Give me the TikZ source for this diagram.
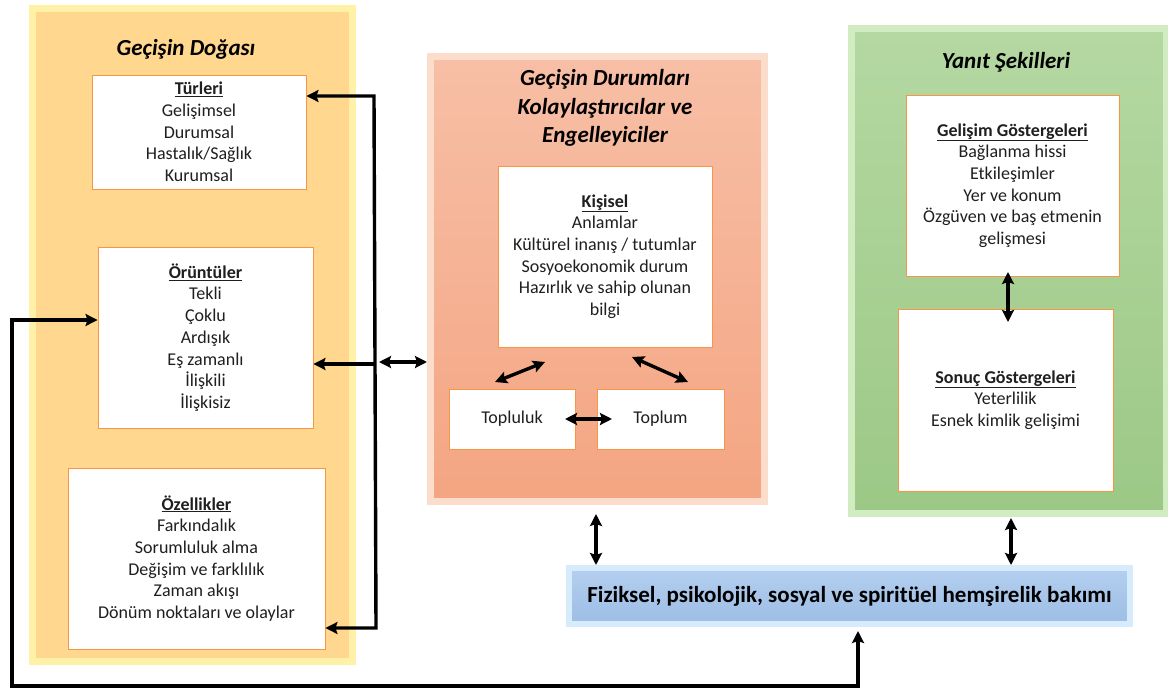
\documentclass[tikz,border=0pt]{standalone}
\usepackage{fontspec}
\setmainfont{Carlito}
\usetikzlibrary{arrows.meta}
\definecolor{txt}{HTML}{1F1F1F}
\definecolor{boxor}{HTML}{F79646}
\definecolor{lfill}{HTML}{FFD78F}
\definecolor{lglow}{HTML}{FFF2A8}
\definecolor{mtop}{HTML}{F7BFA6}
\definecolor{mbot}{HTML}{F4A582}
\definecolor{mglow}{HTML}{FCDCCB}
\definecolor{gtop}{HTML}{B5D8A2}
\definecolor{gbot}{HTML}{9CC886}
\definecolor{gglow}{HTML}{D2ECC2}
\definecolor{btop}{HTML}{B4CFEF}
\definecolor{bbot}{HTML}{9DBDE5}
\definecolor{bglow}{HTML}{D6EBFC}
\tikzset{
  panel/.style={line width=7pt, inner sep=0pt},
  wbox/.style={draw=boxor, fill=white, line width=0.9pt, align=center, inner sep=0pt,
    font=\fontsize{18}{21.7}\selectfont, text=txt},
  ttl/.style={align=center, inner sep=0pt, text=black,
    font=\fontsize{23}{28.5}\selectfont\bfseries\itshape},
  tip/.tip={Stealth[length=12pt,width=12pt,inset=2pt]},
  arr/.style={line width=3.4pt, -tip},
  darr/.style={line width=3.4pt, tip-tip},
}
\newcommand{\hd}[1]{\underline{\textbf{#1}}}
\begin{document}
\begin{tikzpicture}[x=1pt,y=-1pt]
\useasboundingbox (0,0) rectangle (1168,688);
\fill[white] (0,0) rectangle (1168,688);
% panels
\node[panel, draw=lglow, fill=lfill, minimum width=320pt, minimum height=653pt] (leftp) at (192.5,335) {};
\node[panel, draw=mglow, top color=mtop, bottom color=mbot, minimum width=334pt, minimum height=445pt] (midp) at (597.5,279) {};
\node[panel, draw=gglow, top color=gtop, bottom color=gbot, minimum width=315pt, minimum height=485pt] (grnp) at (1009,271) {};
\node[panel, line width=6pt, draw=bglow, top color=btop, bottom color=bbot, minimum width=561pt, minimum height=56pt,
  font=\fontsize{23}{27}\selectfont\bfseries, text=black] (blue) at (849.5,596) {Fiziksel, psikolojik, sosyal ve spiritüel hemşirelik bakımı};
% titles
\node[ttl] (t1) at (186,49) {Geçişin Doğası};
\node[ttl] (t2) at (605,108) {Geçişin Durumları\\Kolaylaştırıcılar ve\\Engelleyiciler};
\node[ttl] (t3) at (1006,62) {Yanıt Şekilleri};
% white boxes
\node[wbox, minimum width=214pt, minimum height=114pt] (tur) at (199,132)
  {\hd{Türleri}\\Gelişimsel\\Durumsal\\Hastalık/Sağlık\\Kurumsal};
\node[wbox, minimum width=215pt, minimum height=181pt] (ort) at (205.5,337.5)
  {\hd{Örüntüler}\\Tekli\\Çoklu\\Ardışık\\Eş zamanlı\\İlişkili\\İlişkisiz};
\node[wbox, minimum width=257pt, minimum height=181pt] (oz) at (196.5,558.5)
  {\hd{Özellikler}\\Farkındalık\\Sorumluluk alma\\Değişim ve farklılık\\Zaman akışı\\Dönüm noktaları ve olaylar};
\node[wbox, minimum width=214pt, minimum height=181pt] (kis) at (605,256.5)
  {\hd{Kişisel}\\Anlamlar\\Kültürel inanış / tutumlar\\Sosyoekonomik durum\\Hazırlık ve sahip olunan\\bilgi};
\node[wbox, minimum width=126pt, minimum height=60pt] (tl) at (512,419) {Topluluk};
\node[wbox, minimum width=127pt, minimum height=60pt] (tp) at (660.5,419) {Toplum};
\node[wbox, minimum width=213pt, minimum height=181pt] (gel) at (1012.5,185.5)
  {\hd{Gelişim Göstergeleri}\\Bağlanma hissi\\Etkileşimler\\Yer ve konum\\Özgüven ve baş etmenin\\gelişmesi};
\node[wbox, minimum width=215pt, minimum height=182pt] (son) at (1005.5,400)
  {\hd{Sonuç Göstergeleri}\\Yeterlilik\\Esnek kimlik gelişimi};
% coordinates
\coordinate (v1) at (374,96);
\coordinate (v2) at (374,364);
\coordinate (v3) at (376,628);
\coordinate (v4) at (379,362);
\coordinate (b1) at (858,686);
\coordinate (b2) at (12,686);
\coordinate (b3) at (12,320);
\coordinate (k1a) at (495,382);
\coordinate (k1b) at (545,362);
\coordinate (k2a) at (632,357);
\coordinate (k2b) at (688,382);
\coordinate (k3a) at (565,419);
\coordinate (k3b) at (612,419);
\coordinate (ga) at (1008,272);
\coordinate (gb) at (1008,322);
\coordinate (m1) at (596,514);
\coordinate (g1) at (1011,518);
% connectors
\draw[darr, line join=miter] (tur.east |- v1) -- (v1) -- (v3) -- (oz.east |- v3);
\draw[arr] (v2) -- (ort.east |- v2);
\draw[darr] (v4) -- (v4 -| midp.west);
\draw[darr, line join=miter, shorten >=4pt] (b3 -| ort.west) -- (b3) -- (b2) -- (b1) -- (b1 |- blue.south);
\draw[darr] (k1a) -- (k1b);
\draw[darr] (k2a) -- (k2b);
\draw[darr] (k3a) -- (k3b);
\draw[darr] (ga) -- (gb);
\draw[darr] (m1) -- (m1 |- blue.north);
\draw[darr] (g1) -- (g1 |- blue.north);
\end{tikzpicture}
\end{document}
